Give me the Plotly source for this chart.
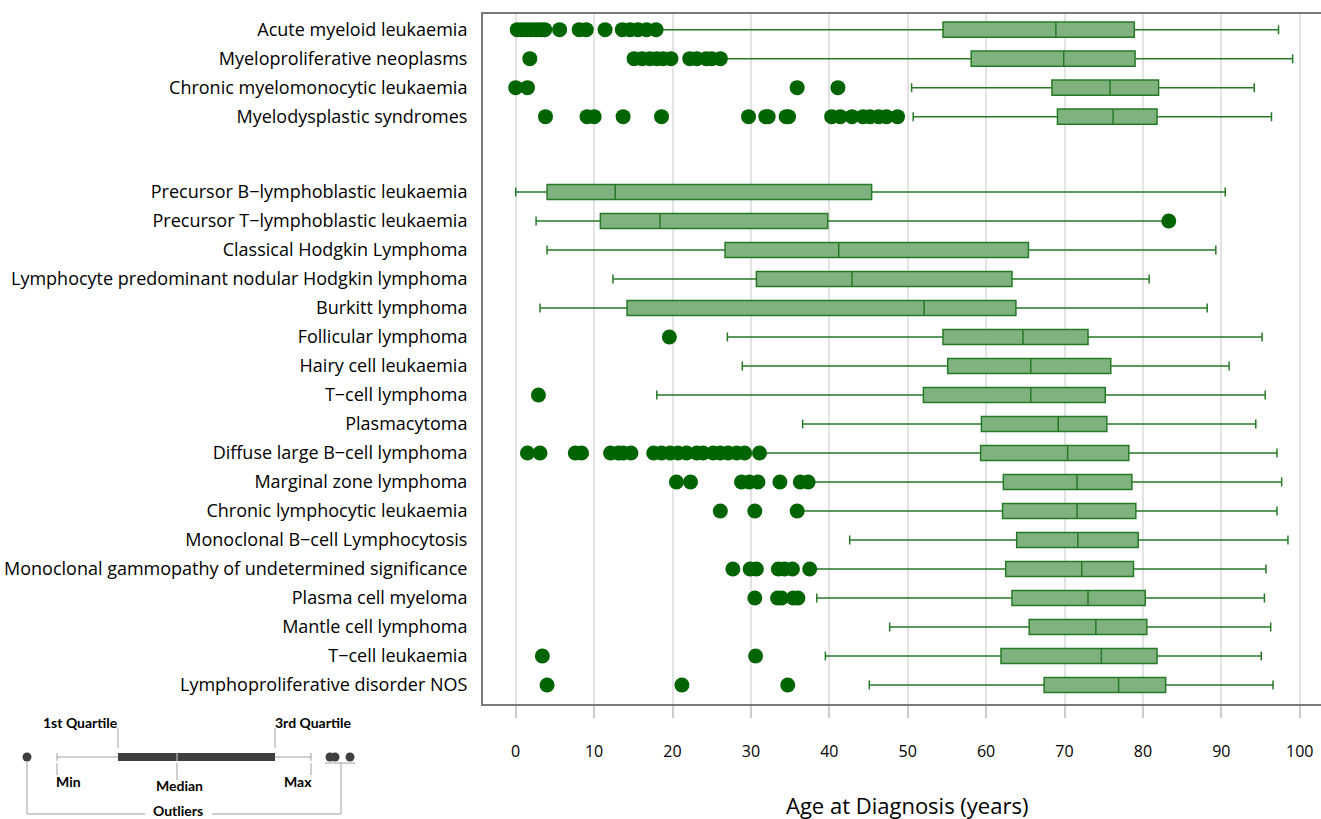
import plotly.graph_objects as go

# ---------------- data ----------------
myeloid = ["Acute myeloid leukaemia", "Myeloproliferative neoplasms",
           "Chronic myelomonocytic leukaemia", "Myelodysplastic syndromes"]
lymphoid = ["Precursor B\u2212lymphoblastic leukaemia", "Precursor T\u2212lymphoblastic leukaemia",
            "Classical Hodgkin Lymphoma", "Lymphocyte predominant nodular Hodgkin lymphoma",
            "Burkitt lymphoma", "Follicular lymphoma", "Hairy cell leukaemia",
            "T\u2212cell lymphoma", "Plasmacytoma", "Diffuse large B\u2212cell lymphoma",
            "Marginal zone lymphoma", "Chronic lymphocytic leukaemia",
            "Monoclonal B\u2212cell Lymphocytosis",
            "Monoclonal gammopathy of undetermined significance", "Plasma cell myeloma",
            "Mantle cell lymphoma", "T\u2212cell leukaemia", "Lymphoproliferative disorder NOS"]
categories = myeloid + lymphoid

min_v = [17.9, 26.2, 50.5, 50.7,
         0.0, 2.6, 4.0, 12.4, 3.1, 27.0, 28.9, 18.0, 36.6, 31.1, 37.3, 36.3, 42.6, 37.6, 38.4, 47.7, 39.5, 45.1]
q1_v = [54.5, 58.1, 68.4, 69.1,
        4.0, 10.8, 26.7, 30.7, 14.2, 54.5, 55.1, 52.0, 59.4, 59.3, 62.2, 62.1, 63.9, 62.5, 63.3, 65.5, 61.9, 67.4]
median_v = [68.9, 69.9, 75.8, 76.2,
            12.7, 18.4, 41.2, 42.9, 52.1, 64.7, 65.7, 65.7, 69.2, 70.4, 71.6, 71.6, 71.7, 72.2, 73.0, 74.0, 74.7, 76.9]
q3_v = [78.9, 79.0, 82.0, 81.8,
        45.4, 39.8, 65.4, 63.3, 63.8, 73.0, 75.9, 75.2, 75.4, 78.2, 78.6, 79.1, 79.4, 78.8, 80.3, 80.5, 81.8, 82.9]
max_v = [97.3, 99.1, 94.2, 96.4,
         90.5, 83.0, 89.3, 80.8, 88.2, 95.2, 91.0, 95.6, 94.4, 97.1, 97.7, 97.1, 98.5, 95.7, 95.5, 96.3, 95.1, 96.6]
outliers = [
    [0.2, 0.8, 1.4, 2.0, 2.6, 3.2, 3.7, 5.6, 8.1, 9.0, 11.4, 13.6, 14.6, 15.6, 16.7, 17.9],
    [1.8, 15.1, 16.1, 17.1, 18.0, 18.8, 19.8, 22.2, 23.1, 24.3, 25.0, 26.1],
    [0.0, 1.5, 35.9, 41.1],
    [3.8, 9.1, 10.0, 13.7, 18.6, 29.7, 31.9, 32.2, 34.5, 34.8,
     40.3, 41.4, 42.9, 44.3, 45.2, 46.3, 47.3, 48.7],
    [], [83.3], [], [], [], [19.6], [], [2.9], [],
    [1.5, 3.1, 7.6, 8.4, 12.1, 13.1, 13.7, 14.7, 17.6, 18.6, 19.7, 20.7, 21.8, 23.1, 23.9,
     25.2, 26.1, 27.1, 28.2, 29.2, 31.1],
    [20.5, 22.3, 28.8, 29.8, 30.9, 33.7, 36.3, 37.3],
    [26.1, 30.5, 35.9],
    [],
    [27.7, 29.9, 30.7, 33.5, 34.3, 35.3, 37.5],
    [30.5, 33.4, 33.9, 35.4, 36.0],
    [],
    [3.4, 30.6],
    [4.0, 21.2, 34.7],
]
x_ticks = [0, 10, 20, 30, 40, 50, 60, 70, 80, 90, 100]

# ---------------- layout helpers ----------------
GAP = 1.6  # extra space between myeloid and lymphoid groups
n_l = len(lymphoid)
pos_l = [n_l - 1 - i for i in range(n_l)]
pos_m = [n_l - 1 + GAP + (len(myeloid) - i) for i in range(len(myeloid))]
positions = pos_m + pos_l

W, H = 1321, 819
L, T, B, R = 483, 14, 115, 0
PW, PH = W - L - R, H - T - B

def px(x):
    return (x - L) / PW

def py(y):
    return (H - B - y) / PH

fig = go.Figure()

fig.add_trace(go.Box(
    y=positions, q1=q1_v, median=median_v, q3=q3_v,
    lowerfence=min_v, upperfence=max_v,
    orientation="h", boxpoints=False, width=0.52, whiskerwidth=0.6,
    fillcolor="rgb(128,178,128)",
    line=dict(color="rgb(38,122,38)", width=1.5),
    showlegend=False, hoverinfo="skip",
))

ox, oy = [], []
for p, vals in zip(positions, outliers):
    for v in vals:
        ox.append(v)
        oy.append(p)
fig.add_trace(go.Scatter(
    x=ox, y=oy, mode="markers",
    marker=dict(color="#006400", size=15, line=dict(width=0)),
    showlegend=False, hoverinfo="skip",
))

# ---------------- legend diagram (decorative key) ----------------
shapes = []
gray = "#a0a0a0"
dark = "#3f3f3f"

def line(x0, y0, x1, y1, color=gray, width=1):
    shapes.append(dict(type="line", xref="paper", yref="paper",
                       x0=px(x0), y0=py(y0), x1=px(x1), y1=py(y1),
                       line=dict(color=color, width=width)))

def dot(cx, cy, r=4.5):
    shapes.append(dict(type="circle", xref="paper", yref="paper",
                       x0=px(cx - r), x1=px(cx + r), y0=py(cy + r), y1=py(cy - r),
                       fillcolor=dark, line=dict(width=0)))

line(57, 757, 311, 757)
line(57, 753, 57, 761)
line(311, 753, 311, 761)
shapes.append(dict(type="rect", xref="paper", yref="paper",
                   x0=px(118), x1=px(275), y0=py(761), y1=py(753),
                   fillcolor=dark, line=dict(width=0)))
line(177, 753, 177, 761, color="#cfcfcf", width=1)
for cx in (27, 330, 335, 350):
    dot(cx, 757)
line(118, 728, 118, 748)
line(275, 728, 275, 748)
line(57, 763, 57, 775)
line(177, 763, 177, 780)
line(311, 763, 311, 775)
line(27, 762, 27, 814)
line(27, 814, 145, 814)
line(212, 814, 341, 814)
line(341, 814, 341, 763)
line(325, 763, 355, 763)

annotations = []
def label(text, x, y):
    annotations.append(dict(text="<b>%s</b>" % text, xref="paper", yref="paper",
                            x=px(x), y=py(y), showarrow=False,
                            xanchor="center", yanchor="middle",
                            font=dict(family="Lato", size=14, color="black")))

label("1st Quartile", 80, 722)
label("3rd Quartile", 313, 722)
label("Min", 68, 781)
label("Median", 179, 786)
label("Max", 298, 781)
label("Outliers", 178, 810)

annotations.append(dict(text="Age at Diagnosis (years)", xref="paper", yref="paper",
                        x=px(907), y=py(805), showarrow=False,
                        xanchor="center", yanchor="middle",
                        font=dict(family="Open Sans", size=22, color="black")))

x0_val = (L - 515.7) / 7.84
x1_val = (W - R - 515.7) / 7.84

fig.update_layout(
    width=W, height=H,
    margin=dict(l=L, r=R, t=T, b=B, pad=0),
    plot_bgcolor="white", paper_bgcolor="white",
    shapes=shapes, annotations=annotations,
    xaxis=dict(range=[x0_val, x1_val], tickvals=x_ticks, ticktext=[str(t) for t in x_ticks],
               showgrid=True, gridcolor="#e3e3e3", gridwidth=1.5,
               zeroline=False, showline=True, linecolor="#7a7a7a", linewidth=2, mirror=True,
               ticks="outside", ticklen=12, tickcolor="#cccccc", tickwidth=1.5,
               ticklabelstandoff=20,
               tickfont=dict(family="Open Sans", size=16, color="black")),
    yaxis=dict(range=[-0.655, 23.14], tickvals=positions, ticktext=categories,
               showgrid=False, zeroline=False, showline=True, linecolor="#7a7a7a", linewidth=2,
               ticks="", ticklabelstandoff=10,
               tickfont=dict(family="Open Sans", size=18, color="black")),
)

fig.write_html("out.html")
